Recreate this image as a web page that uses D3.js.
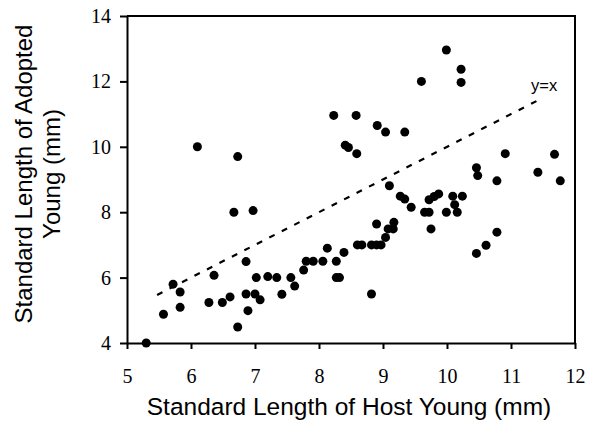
<!DOCTYPE html>
<html>
<head>
<meta charset="utf-8">
<script src="https://cdn.jsdelivr.net/npm/d3@7"></script>
<style>
	body { margin: 0; background: #fff; }
	svg { display: block; }
</style>
</head>
<body>
<div class="svg-container"></div>
<script>
(function () {

	"use strict";

	// host young length (x) vs adopted young length (y), mm
	var host_length = [
		5.3, 5.57, 5.72, 5.83, 5.83, 6.1, 6.28, 6.36, 6.49, 6.61,
		6.67, 6.73, 6.73, 6.86, 6.86, 6.89, 6.97, 7.0, 7.02, 7.08,
		7.2, 7.34, 7.42, 7.56, 7.62, 7.76, 7.8, 7.91, 8.06, 8.13,
		8.23, 8.27, 8.27, 8.32, 8.39, 8.41, 8.46, 8.58, 8.59, 8.6,
		8.67, 8.82, 8.82, 8.9, 8.97, 8.9, 8.91, 9.04, 9.04, 9.08,
		9.16, 9.17, 9.1, 9.27, 9.34, 9.34, 9.44, 9.6, 9.65, 9.72,
		9.72, 9.8, 9.87, 9.75, 9.99, 9.99, 10.09, 10.12, 10.16, 10.24,
		10.22, 10.22, 10.46, 10.48, 10.46, 10.61, 10.78, 10.78, 10.91, 11.42,
		11.68, 11.77
	];
	var adopted_length = [
		4.0, 4.88, 5.8, 5.56, 5.09, 10.0, 5.24, 6.07, 5.24, 5.41,
		8.0, 9.7, 4.49, 6.49, 5.5, 4.99, 8.05, 5.5, 6.0, 5.32,
		6.03, 6.0, 5.49, 6.0, 5.74, 6.23, 6.5, 6.5, 6.5, 6.9,
		10.96, 6.5, 6.0, 6.0, 6.77, 10.05, 9.98, 10.96, 9.79, 7.0,
		7.0, 5.5, 7.0, 7.0, 7.0, 7.64, 10.65, 10.45, 7.23, 7.49,
		7.49, 7.69, 8.81, 8.49, 8.4, 10.45, 8.15, 12.0, 8.0, 8.0,
		8.38, 8.48, 8.56, 7.49, 12.96, 8.0, 8.49, 8.23, 8.0, 8.49,
		12.37, 11.97, 9.36, 9.12, 6.74, 6.99, 7.39, 8.96, 9.79, 9.22,
		9.77, 8.96
	];

	// reference line y = x, drawn between these host lengths
	var identity_range = [5.47, 11.5];

	var x_ticks = [5, 6, 7, 8, 9, 10, 11, 12],
		y_ticks = [4, 6, 8, 10, 12, 14];

	var x_title = "Standard Length of Host Young (mm)",
		y_title = ["Standard Length of Adopted", "Young (mm)"];

	var points = host_length.map(function (d, i) { return { "x": d, "y": adopted_length[i] }; });

	var container = d3.select(".svg-container"),
		container_width = 591,
		container_height = 424,
		margin = { "top": 16, "right": 16, "bottom": 81, "left": 127 };

	var width = container_width - margin.left - margin.right,
		height = container_height - margin.top - margin.bottom;

	var svg = container.append("svg")
		.attr("width", container_width)
		.attr("height", container_height);

	var g = svg.append("g")
		.attr("transform", "translate(" + margin.left + "," + margin.top + ")");

	var x = d3.scaleLinear().domain([5, 12]).range([0, width]),
		y = d3.scaleLinear().domain([4, 14]).range([height, 0]);

	// frame (top + right)
	g.append("path")
		.attr("d", "M0,0H" + width + "V" + height)
		.attr("fill", "none")
		.attr("stroke", "#000")
		.attr("stroke-width", 2);

	var x_axis = g.append("g")
		.attr("transform", "translate(0," + height + ")")
		.call(d3.axisBottom(x).tickValues(x_ticks).tickFormat(d3.format("d")).tickSize(6).tickSizeOuter(0).tickPadding(20));

	var y_axis = g.append("g")
		.call(d3.axisLeft(y).tickValues(y_ticks).tickFormat(d3.format("d")).tickSize(7).tickSizeOuter(0).tickPadding(9));

	[x_axis, y_axis].forEach(function (a) {
		a.select(".domain").attr("stroke-width", 2);
		a.selectAll(".tick line").attr("stroke-width", 2);
		a.selectAll(".tick text")
			.attr("font-family", "'Liberation Serif', 'Times New Roman', serif")
			.attr("font-size", 20)
			.attr("fill", "#000");
	});

	// y = x dashed line
	g.append("line")
		.attr("x1", x(identity_range[0]))
		.attr("y1", y(identity_range[0]))
		.attr("x2", x(identity_range[1]))
		.attr("y2", y(identity_range[1]))
		.attr("stroke", "#000")
		.attr("stroke-width", 2.2)
		.attr("stroke-dasharray", "6,8");

	g.append("text")
		.attr("x", x(identity_range[1]) - 12)
		.attr("y", y(identity_range[1]) - 7)
		.attr("font-family", "'Liberation Sans', Arial, sans-serif")
		.attr("font-size", 16.5)
		.text("y=x");

	g.selectAll(".dot")
		.data(points)
		.enter()
		.append("circle")
		.attr("class", "dot")
		.attr("cx", function (d) { return x(d.x); })
		.attr("cy", function (d) { return y(d.y); })
		.attr("r", 4.5)
		.attr("fill", "#000");

	// axis titles
	svg.append("text")
		.attr("x", 349)
		.attr("y", 415)
		.attr("text-anchor", "middle")
		.attr("font-family", "'Liberation Sans', Arial, sans-serif")
		.attr("font-size", 24.5)
		.text(x_title);

	svg.append("text")
		.attr("transform", "translate(32," + 174 + ") rotate(-90)")
		.attr("text-anchor", "middle")
		.attr("font-family", "'Liberation Sans', Arial, sans-serif")
		.attr("font-size", 24)
		.selectAll("tspan")
		.data(y_title)
		.enter()
		.append("tspan")
		.attr("x", 0)
		.attr("dy", function (d, i) { return i === 0 ? 0 : 28; })
		.text(function (d) { return d; });

})();
</script>
</body>
</html>
